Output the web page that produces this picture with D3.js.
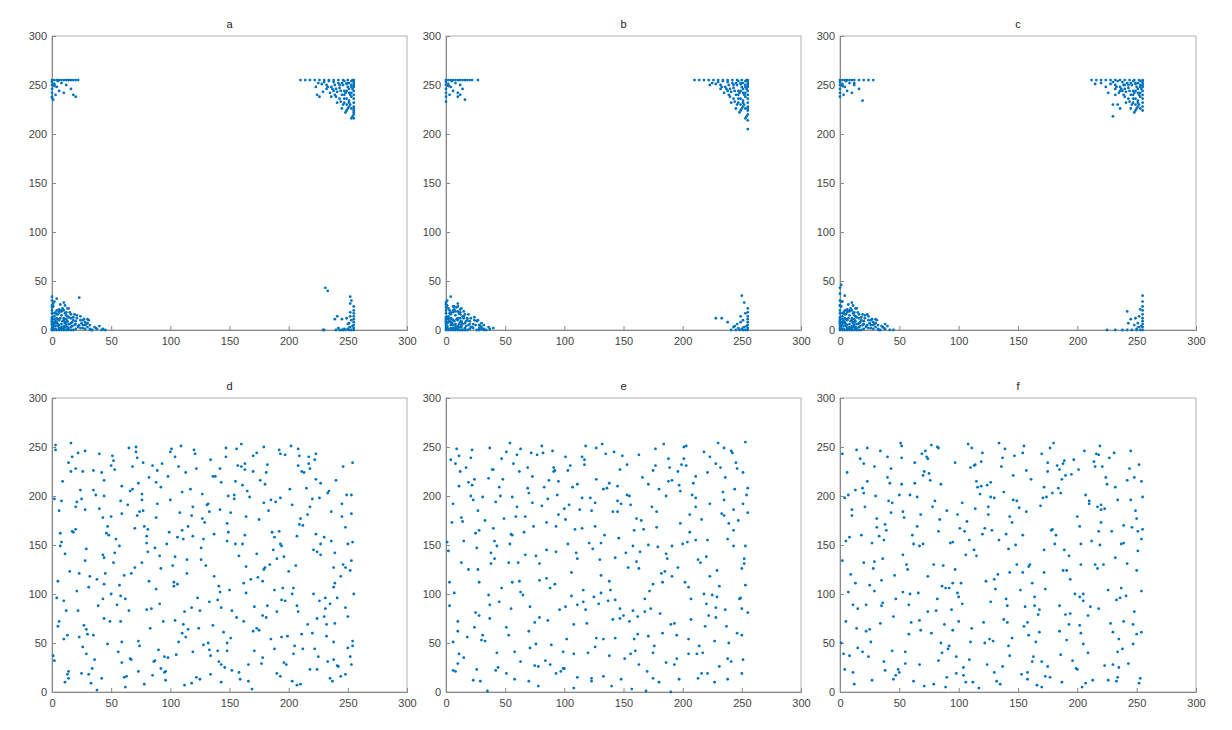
<!DOCTYPE html>
<html><head><meta charset="utf-8">
<script src="https://cdn.jsdelivr.net/npm/d3@7/dist/d3.min.js"></script>
<style>body{margin:0;background:#fff}svg{font-family:Arial,"Liberation Sans",sans-serif}</style>
</head><body>
<svg id="c" width="1232" height="730"></svg>
<script>
// Data: each point is 4 hex chars "xxyy" (x,y in 0..255)
const titles = ["a","b","c","d","e","f"];
const ticks = [0,50,100,150,200,250,300];
const dataA = "0000 0102 0301 0504 0206 0803 0a01 0c05 0407 0909 0e02 1003 0b08 070c 120a 0f06 1401 1604 0d0e 0510 1a02 1c01 1108 0312 0a14 1e03 2200 1907 080f 0613 1310 0211 0c0b 150c 1705 2001 0017 011b 0420 0e0d 1409 0b11 0615 1d06 2502 2804 0c0f 0916 0118 1a0a 100c 0f12 1b0b 180e 0e16 0b19 2100 0309 0605 0a0a 0d03 1104 0208 0107 050b 0000 0200 0400 0600 0800 0a00 0c00 0e00 1000 1200 0001 0003 0005 0007 0009 000b 000d 0011 0014 0019 001e 0022 2601 2a00 1c08 1e0b 1f0a 150f 0d16 071a 0a1c 021d 0b07 0304 0701 0902 0b03 0d01 0104 0506 0408 1305 1802 1a05 120d 0414 0814 1721 2b01 2d00 0eff 00ff 02ff 04ff 06ff 08ff 0aff 0cff 0eff 10ff 12ff 14ff 16ff 00fd 00fa 00f6 00f2 00ee 02fb 04f8 06f4 03f0 0af2 10f6 12f0 14ee 02f9 08fc 05fe 0cfa 01eb 00ed d2ff d6ff daff deff e2ff e6ff eaff eeff f2ff f6ff faff feff ffff fffc fff8 fff4 fff0 ffec ffe8 ffe4 ffe0 ffdc ffd8 fffe fffa ffde e4fb e8fa ecf8 f0f6 f4f4 f8f2 fcf0 fef6 faf8 f6fa f2fc eefd eafe e6fd fbea fdee f9e6 f7ec f5f0 f1f3 edf6 e9f8 fde2 fbe4 f9e0 f7e8 f3ec f5e2 eff0 ebf2 f1e8 f3f7 f7f4 fbf2 fdf8 f9fb effa e8f6 dff8 e1fc f6e6 f4e9 fce6 fae2 f8de feda fdd8 eef4 f0ee ecee e5f3 e2ee e0f0 fb00 fd00 ff00 ff02 ff05 ff08 ff0b ff0e ff11 ff14 ff18 fe04 fc03 fa01 f800 f500 f300 f000 fd0a fc0e fb07 f90c f50b f202 f701 e600 e500 fc1b fd1e fc22 ef0b f10e e928 e72b f600 fc12 fa06 0602 0806 0a04 0c08 0e06 1007 0a0c 060a 0410 020e 0612 0813 0c12 1010 1406 1603 180a 1c05 1e07 2005 2403 0009 020b 040c 0802 0d09 f9fc f7fe f5fc f3fa fdfa fbf6 f9f4 f7f0 fdf2 ffe2 fbe8 f9ec fbfc fdfe";
const dataB = "0000 0201 0103 0405 0602 0804 0a01 0c03 0507 0709 0e00 1002 0b06 090b 120a 0d08 1401 1603 0f0e 0412 1a00 1c02 1109 0216 0a13 1e01 2200 1905 080f 0614 1310 0311 0c0c 150c 1706 2000 001a 011e 0422 0e0e 1409 0b11 0718 1d04 2501 2802 0c10 0917 0119 1a09 0f0c 0f13 1b0a 180d 0d16 0a1b 0309 0605 0a0a 0d03 1104 0208 0107 050b 0200 0400 0600 0800 0a00 0c00 0e00 1000 1200 0001 0003 0005 0007 0009 000b 000d 0011 0014 0017 001c 1503 1c00 2001 1e03 0c15 0a18 0618 020c 0402 0701 0902 0b03 0d05 0104 0506 0408 1305 1702 1c05 120c 0314 0715 00ff 02ff 04ff 06ff 08ff 0aff 0cff 0eff 10ff 12ff 14ff 16ff 1bff 00fd 00fa 00f6 00f2 00ee 02fb 04f8 06f4 03f0 0af2 0ef6 10eb 0cf0 0aee 02f9 08fc 05fe 0cfa 00e9 d2ff d6ff daff deff e2ff e6ff eaff eeff f2ff f6ff faff feff ffff fffc fff8 fff4 fff0 ffec ffe8 ffe4 ffe0 ffdc ffd6 ffcd fffe fffa e4fb e8fa ecf8 f0f6 f4f4 f8f2 fcf0 fef6 faf8 f6fa f2fc eefd eafe e6fd fbea fdee f9e6 f7ec f5f0 f1f3 edf6 e9f8 fde2 fbe4 f9e0 f7e8 f3ec f5e2 eff0 ebf2 f1e8 f3f7 f7f4 fbf2 fdf8 f9fb effa e8f6 dffa e1fc f6e6 f4e9 fce6 fae2 f8de feda fdd8 eef4 f0ee f100 f500 f800 fb00 fd00 ff00 ff02 ff05 ff08 ff0b ff0e ff12 ff16 fe04 fc03 fa01 f702 f404 f303 f908 fb0a fa23 f90e e40c e90c ee08 fc1c f606 fd11 0602 0806 0a04 0c08 0e06 1007 0a0c 060a 0410 020e 0612 0813 0c12 1010 1406 1603 180a 1c05 1e07 2005 2403 0009 020b 040c 0802 0d09 f9fc f7fe f5fc f3fa fdfa fbf6 f9f4 f7f0 fdf2 ffe2 fbe8 f9ec fbfc fdfe";
const dataC = "0000 0102 0301 0504 0206 0803 0a01 0c05 0407 0909 0e02 1003 0b08 070c 120a 0f06 1401 1604 0d0e 0510 1a02 1c01 1108 0312 0a14 1e03 2200 1907 080f 0613 1310 0211 0c0b 150c 1705 2001 0019 011d 0423 0e0d 1409 0b11 0615 1d06 2502 2804 0c0f 0916 0118 1a0a 100c 0f12 1b0b 180e 0e16 0b19 2100 0309 0605 0a0a 0d03 1104 0208 0107 050b 0200 0400 0600 0800 0a00 0c00 0e00 1000 1200 0001 0003 0005 0007 0009 000b 000d 0011 0014 0019 001e 0025 002b 012e 2601 2a00 1c08 1e0b 1f0a 150f 0d16 071a 0a1c 021d 0b07 0304 0701 0902 0b03 0d01 0104 0506 0408 1305 1802 1a05 120d 0414 0814 1710 2304 2606 2d00 00ff 02ff 04ff 06ff 08ff 0aff 0cff 10ff 14ff 18ff 1cff 00fd 00fa 00f6 00f2 00ee 02fb 04f8 06f4 03f0 0af2 10f6 13ea 0cfc 02f9 08fc 05fe 0cfa d4ff d8ff dcff e0ff e4ff e8ff ecff f0ff f4ff f8ff fcff ffff fffc fff8 fff4 fff0 ffec ffe8 ffe4 ffe0 fffe fffa e4fb e8fa ecf8 f0f6 f4f4 f8f2 fcf0 fef6 faf8 f6fa f2fc eefd eafe e6fd fbea fdee f9e6 f7ec f5f0 f1f3 edf6 e9f8 fde2 fbe4 f9e0 f7e8 f3ec f5e2 eff0 ebf2 f1e8 f3f7 f7f4 fbf2 fdf8 f9fb effa e8f6 e2f2 e0f8 dcfc d7fb e6e6 ece2 eae6 e6da f6e6 f4e9 fce6 fae2 f8de eef4 f0ee e100 e800 ee00 f200 f600 fa00 fd00 ff00 ff03 ff06 ff09 ff0c ff10 ff14 ff18 ff1d ff23 fe04 fc03 fa01 f805 f50b f307 fc0e fb07 f90c f213 fd15 0602 0806 0a04 0c08 0e06 1007 0a0c 060a 0410 020e 0612 0813 0c12 1010 1406 1603 180a 1c05 1e07 2005 2403 0009 020b 040c 0802 0d09 f9fc f7fe f5fc f3fa fdfa fbf6 f9f4 f7f0 fdf2 fbe8 f9ec fbfc fdfe e8f0 ecf4 f0fa";
const dataD = "03f7 1ae1 2cc8 47fa 58b2 6f9c 8ee4 a1d3 b47f c36a d9f0 e845 f812 0b8d 15c2 2f31 3d77 4ea9 5c18 6be6 7d53 8f0a 9ac9 aa3e bb91 cc27 dd64 ecb8 fa2d 0460 12a3 2109 33f1 42cd 51a6 6015 7279 83bf 942a a3e9 b54c c197 d208 e3d5 f476 06b9 1738 2cd8 3b1e 4c84 5de9 6e3c 7fb1 8e66 9f0d adf4 be52 cf9f dff3 ee21 fd86 0125 10e1 1f6b 2ea2 3d0f 4cc4 5b5a 6a9e 79f3 8844 97b7 a61c b5e0 c48a d33b e2c6 f160 fe99 09d7 1b44 2a0e 3995 48ef 5720 6681 75cf 8432 93f9 a26f b11d c0a4 cf58 deed ed0b fc7c 0d3a 1cf6 2b5f 3ac3 4915 58d6 6770 76b4 852b 949a a3e3 b24e c110 d0f8 dfa1 ee33 fdc9 0e0e 1d92 2c4b 3bb6 4a2f 59e2 6849 779f 8612 95c8 a465 b3fa c238 d1ab e017 ef8e feea 0571 14bd 233a 32e7 4153 5098 5f24 6ecc 7d0d 8c5e 9b97 aae1 b936 c87b d7d0 e64d f5b3 0220 11f0 2076 2fa9 3e05 4db9 5c7e 6b33 7ae4 8976 9816 a7c7 b658 c5f2 d42c e397 f21a 0c53 1a2e 28bb 369c 44e6 5271 600c 6ea5 7c41 8adc 9853 a60b b4d4 c295 d0e7 de2c ec9a fa4d 02c5 10fe 1e3b 2c89 3a62 48b4 561f 64f5 7287 8030 8eba 9c4c aaf1 b882 c61c d4aa e25d f0d8 fe34 07a2 1567 23ce 3148 3f10 4dea 5b8b 6926 77bd 855c 93f0 a197 af3f bdc2 cb0b d9e9 e760 f5c0 0e15 1c86 2ae0 3829 46a7 5455 62dc 7007 7e93 8c2a 9ac5 a873 b6e8 c41e d2b1 e04b ee7f fc24 03fc 11a4 1f12 2d79 3bd2 4934 5793 65f8 7340 81ad 8f1c 9de7 ab57 b9c4 c739 d5e0 e38c f11b ff64 0a36 18ce 2673 34ec 4222 509f 5e48 6cb7 7a0f 88dc 9668 a4b3 b223 c0f7 ce81 dc3c eacd f856 0899 16f4 2421 3264 40bf 4e08 5cd1 6a6e 78f7 8625 94ac a248 b0d8 be13 cc6a dabd e839 f682 0b0a 19c5 2758 35e3 4379 518f 5f14 6dfb 7b60 89a1 9737 a5cd b37d c1f3 cf07 dd91 eb5a f9c9 0f7b 1d40 2bb2 396d 47f5 5511 63a3 7138 7fca 8d6c 9bd7 a903 b7b9 c55d d3e1 e124 ef6f fdb6 0648 14e4 2218 30a0 3e5f 4cca 5a2b 68f0 7656 84c0 9219 a0e6 ae75 bc2c cafb d845 e69e f410 0795 1653 25c9 3484 4321 52db 6197 7052 8fd6 9e8b ad41 bc9e cb64 da17 e9cb f87f 0eea 1d27 2c6e 3b33 4ab8 59c0 688a 7729 86ed 95a3 a480 b3c1 c25e d1f1 e08f ef46 fe2f 0d12 1cba 2b8c 3a48 49d5 5869 676c 7609 85b8 9432 a3a0 b271 c1c6 d052 dfd9 ee6b fd1c 08c3 1779 2602 358e 44cf 5341 6223 71e0 809c 8f56 9e14 ad8d bc68 cbbf dae4 e91f f8a8 0a5d 1913 28f3 3759 467f 55e7 64c4 73a9 8281 913d a0fd afb0 be88 cd2f dcc5 eb0e fa97 0543 14a6 23e2 32b3 41f9 5054 6f45 7e87 8d1f 9cf8 ab2a baa3 c9cf d8b5 e755 f6e6";
const dataE = "04ed 17c4 25f9 38a0 4b1b 5c6e 6fd4 7f37 91b8 a24d b1e7 c322 d39b e561 f4cf fa13 0a48 1bb9 2a16 3ee1 4f72 5da9 6c04 7ec1 8f5e 9e95 af28 bcd7 cd6b dd13 ee9c fbe0 0290 137d 24da 3342 43b3 52f4 6318 73c6 8377 93e3 a23b b2a8 c50d d3dc e456 f1f6 fc83 0b27 1ca5 2d5c 3cf2 4c31 5be1 6a7a 7b0b 8ad5 9b48 ab96 ba1e cbe7 da64 ebb4 fa3a 06c0 16f7 254b 3584 45e5 5420 64bb 7468 84fd 9355 a31c b4cf c47f d427 e4e9 f395 ff51 0815 18d9 2683 36fe 463e 55ad 6557 75ed 8510 94c0 a48f b40a c4e1 d3bd e334 f2f4 fd6d 0eae 1e35 2ec8 3e71 4e1a 5ec9 6e8e 7e2e 8ef5 9e53 aebd be00 cea3 de4e ee0d fec9 0765 170c 27e3 37a1 472d 57d8 6797 7746 87f3 9722 a7a6 b770 c7e8 d784 e71a f7af 09f8 1951 2988 39e9 49c1 5930 69e7 7998 895d 99c9 a901 b97b c9ee d928 e9b6 f960 0f23 1fc7 2f6a 3ff8 4f4c 5fb5 6f0f 7fd9 8f89 9f36 afe2 bf95 cf4a dff0 efac ffd0 0199 11e5 2134 31b1 4163 51fb 6115 71ba 815a 91d2 a185 b1f8 c146 d1d5 e163 f11f 0ce1 1c70 2c19 3cbd 4c8b 5ce2 6c45 7c92 8c06 9cbf ac67 bcee cc99 dc5a ecdb fc88 05ad 15ef 2559 353a 45d0 5574 65b0 75e8 8536 95f1 a5af b550 c5d3 d50e e57c f5ea 0a3e 1a93 2ac2 3a0d 4aa9 5af6 6a62 7ac6 8a25 9a7f aa15 bac8 ca70 daf5 eacc fa7e 0358 13d6 2301 33f5 438c 53d1 6329 73f0 8365 934b a3f2 b394 c33a d3c6 e30a f3a5 0db2 1d0b 2dd1 3d84 4df2 5d13 6da6 7d61 8db8 9d03 ad55 bde5 cd27 dd9b ed43 fdff 08e9 1842 28a7 3870 48f4 581c 68bf 7828 88d0 988e a85f b8fd c897 d813 e8e5 f85f 0f9a 1f3a 2fee 3f1f 4f83 5fd7 6f59 7ff9 8f37 9fa5 af0e bfd8 cf5f dfc0 ef32 ffb7 0616 16d3 268e 3697 460b 56c5 6636 76fb 86a0 964e a6db b679 c6ac d62f e6fe f6e4 0bf1 1b7d 2b28 3bb3 4b47 5be5 6bd1 7b0e 8b68 9bc8 ab39 bb88 cbfb db43 ebc4 fb21 0370 1238 21af 30d9 3f66 4e06 5d8f 6c27 7bb9 8a71 99e8 a852 b73c c6cd d587 e44c f3ba 0a1d 19a2 28e3 3755 46cb 5591 6418 73a7 8287 91c3 a02a af6e be45 cd36 dc8a ebf9 fa55 0d84 1c4e 2b95 3a29 49dc 586a 67e2 7654 85cf 940d a37e b2b8 c11c d0c9 df76 ee22 fd95 0633 15c8 2463 3313 42a3 51be 6054 6f88 7ea9 8d4a 9c27 abd4 ba8d c9fa d8b0 e76c f63c 0bd2 1a17 299a 38c7 4757 5649 65f0 745c 8398 929d a1b1 b02f bf76 ceb5 dde0 ec54 fbc0";
const dataF = "0286 1329 22f6 35b8 4706 566c 67c1 78f4 891a 9aa0 a854 b9e3 cb3c db96 ea0f fba4 0d6f 1de6 2d4d 3e97 4dfc 5c2f 6d9b 7cd3 8d58 9e0d ac7a bdec cd31 dcba ed6a fc09 04c6 1484 245b 34ef 431c 53a4 6365 72e8 8214 92c4 a26f b1f9 c145 d2c0 e20c f283 fe3d 0b14 1b98 2be4 3a3b 4a76 5ab9 6a0a 7aa7 8a4a 9af4 aa1f bacb ca61 daf2 ea29 fab1 0132 11ee 219f 3117 41c7 5153 61ea 7191 8134 91ad a1d9 b10f c18b d14e e1d4 f162 fed7 0f55 1fa8 2f11 3fd5 4f82 5f3f 6ff9 7f5c 8fb3 9f3a afe1 bf7c cf09 dfbb ef48 ffc7 06e0 1659 2616 36b2 46dd 5628 666f 76ca 869b a607 b6a0 c664 d6eb e61c f6a8 089e 1824 28db 3882 48f6 5845 6811 78a1 88e6 9868 a83d b8d0 c817 d8f3 e889 f852 0e41 1ec8 2e77 3e0b 4ebd 5e54 6ee5 7e36 8e92 9e14 aec7 be4f cef6 de82 ee2c fe9c 0327 13d0 2372 33fe 4395 5320 63b5 73d7 8369 93f1 a324 b3a6 c3de d357 e3ef f31d 0dce 1d67 2d0d 3da0 4d3c 5d98 6d21 7db5 8d47 9de2 ad10 bd91 cd5d dde6 ed97 fd0e 0aba 1a33 2ad5 3a59 4aee 5a0f 6a8c 7a32 8acc 9a7a aaf3 ba26 caa9 da55 eac4 fa3b 0766 17f9 27a5 371d 47e1 5781 675a 77eb 8708 97bc a74f b7e7 c718 d782 e7f4 f745 0c08 1c7e 2cc1 3c47 4cd8 5c6a 6cfd 7c1c 8ca1 9c57 acd1 bc7c cc05 dcbf ec60 fce8 0548 15bd 251f 358c 45f3 5532 65a7 7504 8578 95c3 a533 b597 c5ed d50c e5a4 f5f6 0f2d 1fb1 2f5f 3fea 4f08 5f99 6f41 7fd6 8f25 9f80 afea bf35 cfc9 df1b efaa ffa6 02f3 12a0 2246 32c9 4265 52fa 6213 72bb 8273 92dd a21f b2a5 c250 d2c3 e268 f2d8 0b59 1b0c 2bb7 3b64 4bdf 5b2c 6bae 7b71 8bf8 9b43 abc6 bb0a cb82 dbfb eb36 fb90 0978 1940 29c3 397d 49f0 5905 69a4 7947 89ef 9912 a9be b958 c9e3 d97e e90b f9b9 0417 14cb 2488 34fb 443f 54b0 6461 74d1 840b 9496 a461 b4fe c420 d49a e446 f4e4 0ab4 196d 28f0 3729 4697 55d4 6448 738b 82c6 9137 a082 af1a bedd cd64 dcad eb19 fa7c 059a 14e9 2358 3214 41a9 50c3 5f6f 6e33 7dbd 8c5f 9bfb aa05 b93e c8b3 d7e6 e63d f5c4 0ef7 1d85 2c2a 3bc9 4a52 596a 6819 77d2 86fe 9582 a458 b3cb c273 d128 e0db ef98 fe67 07c9 163e 259b 34d4 4349 525f 617d 700a 7fc7 8e2f 9db8 ac91 bbd9 ca44 d9bd e8d1 f731 0825 17d7 26ab 3566 44b5 53f9 6224 71e7 80a5 8f7a 9e47 ad69 bce9 cb97 daa4 e95e f8db";
const panelData = [dataA,dataB,dataC,dataD,dataE,dataF];

const parse = s => s.trim().split(/\s+/).map(h => [parseInt(h.slice(0,2),16), parseInt(h.slice(2,4),16)]);

const svg = d3.select("#c");
const colX = [[52,407],[446,801],[840,1196]];
const rowY = [[36,330],[398,692]];
const color = "#0072BD";

panelData.forEach((str,i)=>{
  const [x0,x1] = colX[i%3], [y0,y1] = rowY[Math.floor(i/3)];
  const x = d3.scaleLinear().domain([0,300]).range([x0,x1]);
  const y = d3.scaleLinear().domain([0,300]).range([y1,y0]);
  const g = svg.append("g");
  g.append("rect").attr("x",x0).attr("y",y0).attr("width",x1-x0).attr("height",y1-y0)
    .attr("fill","none").attr("stroke","#b0b0b0").attr("stroke-width",1);
  const ax = g.append("g").attr("transform",`translate(0,${y1})`)
    .call(d3.axisBottom(x).tickValues(ticks).tickSize(-4).tickPadding(7));
  const ay = g.append("g").attr("transform",`translate(${x0},0)`)
    .call(d3.axisLeft(y).tickValues(ticks).tickSize(-4).tickPadding(5));
  [ax,ay].forEach(a=>{
    a.select(".domain").attr("stroke","#888");
    a.selectAll(".tick line").attr("stroke","#888");
    a.selectAll("text").attr("fill","#444").attr("font-size",11);
  });
  g.append("text").attr("x",(x0+x1)/2).attr("y",y0-8).attr("text-anchor","middle")
    .attr("font-size",11).attr("fill","#222").text(titles[i]);
  g.selectAll("circle").data(parse(str)).join("circle")
    .attr("cx",d=>x(d[0])).attr("cy",d=>y(d[1])).attr("r",1.4).attr("fill",color);
});
</script>
</body></html>
